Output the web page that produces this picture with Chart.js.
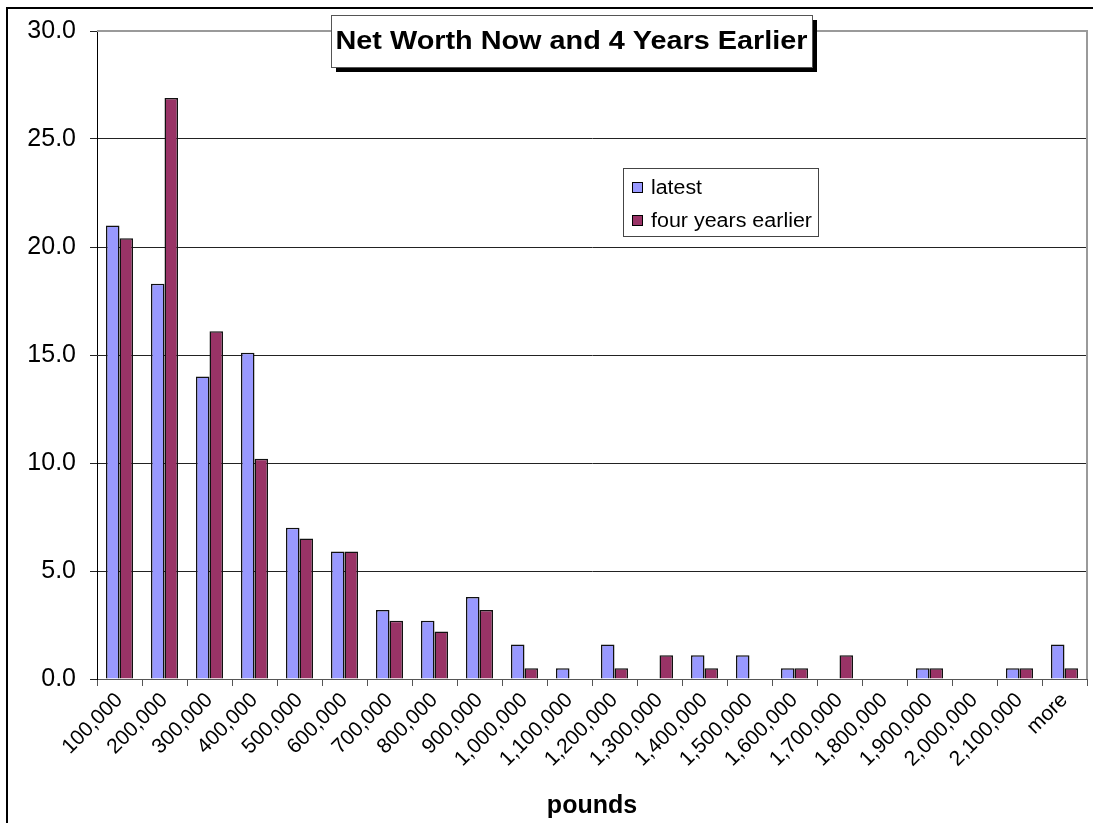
<!DOCTYPE html>
<html>
<head>
<meta charset="utf-8">
<script src="https://cdn.jsdelivr.net/npm/chart.js@4/dist/chart.umd.min.js"></script>
<style>
  html, body { margin: 0; padding: 0; background: #fff; }
  #wrap { width: 1093px; height: 823px; position: relative; }
</style>
</head>
<body>
<div id="wrap"><canvas id="c" width="1093" height="823"></canvas></div>
<script>
// Net worth bands (pounds), share of respondents in each band (%)
const categories = [
  "100,000", "200,000", "300,000", "400,000", "500,000", "600,000",
  "700,000", "800,000", "900,000", "1,000,000", "1,100,000", "1,200,000",
  "1,300,000", "1,400,000", "1,500,000", "1,600,000", "1,700,000",
  "1,800,000", "1,900,000", "2,000,000", "2,100,000", "more"
];
const latest = [
  21.0, 18.3, 14.0, 15.1, 7.0, 5.9, 3.2, 2.7, 3.8, 1.6, 0.5,
  1.6, 0.0, 1.1, 1.1, 0.5, 0.0, 0.0, 0.5, 0.0, 0.5, 1.6
];
const fourYearsEarlier = [
  20.4, 26.9, 16.1, 10.2, 6.5, 5.9, 2.7, 2.2, 3.2, 0.5, 0.0,
  0.5, 1.1, 0.5, 0.0, 0.5, 1.1, 0.0, 0.5, 0.0, 0.5, 0.5
];
const yTicks = [0, 5, 10, 15, 20, 25, 30];
const chartTitle = "Net Worth Now and 4 Years Earlier";
const xTitle = "pounds";

const FONT = "'Liberation Sans', Arial, sans-serif";

// Draws text stretched horizontally to fill a given width
function fillStretched(ctx, text, cx, cy, width) {
  const w = ctx.measureText(text).width;
  const sx = width / w;
  ctx.save();
  ctx.translate(cx, cy);
  ctx.scale(sx, 1);
  ctx.textAlign = 'center';
  ctx.fillText(text, 0, 0);
  ctx.restore();
}

// Outer frame, plot-area edges, boxed title and framed legend
const decorations = {
  id: 'decorations',
  beforeDraw(chart) {
    const ctx = chart.ctx;
    ctx.save();
    ctx.fillStyle = '#fff';
    ctx.fillRect(0, 0, chart.width, chart.height);
    ctx.strokeStyle = '#000';
    ctx.lineWidth = 2;
    ctx.beginPath();
    ctx.moveTo(7, chart.height);
    ctx.lineTo(7, 8);
    ctx.lineTo(chart.width, 8);
    ctx.stroke();
    ctx.restore();
  },
  afterDraw(chart) {
    const ctx = chart.ctx;
    const a = chart.chartArea;
    ctx.save();
    // plot area top and right edges
    ctx.strokeStyle = '#9a9a9a';
    ctx.lineWidth = 2;
    ctx.beginPath();
    ctx.moveTo(a.left, a.top);
    ctx.lineTo(a.right, a.top);
    ctx.lineTo(a.right, a.bottom);
    ctx.stroke();

    // title box with drop shadow
    const tx = 331, ty = 15, tw = 481, th = 52;
    ctx.fillStyle = '#000';
    ctx.fillRect(tx + 5, ty + 5, tw, th);
    ctx.fillStyle = '#fff';
    ctx.fillRect(tx, ty, tw, th);
    ctx.strokeStyle = '#555';
    ctx.lineWidth = 1;
    ctx.strokeRect(tx + 0.5, ty + 0.5, tw, th);
    ctx.fillStyle = '#000';
    ctx.font = "bold 25px " + FONT;
    ctx.textBaseline = 'middle';
    fillStretched(ctx, chartTitle, tx + tw / 2, ty + th / 2 + 1, 472);

    // legend box
    const lx = 623, ly = 168, lw = 195, lh = 68;
    ctx.fillStyle = '#fff';
    ctx.fillRect(lx, ly, lw, lh);
    ctx.strokeStyle = '#444';
    ctx.strokeRect(lx + 0.5, ly + 0.5, lw, lh);
    ctx.font = "20px " + FONT;
    ctx.textAlign = 'left';
    chart.data.datasets.forEach((ds, i) => {
      const cy = ly + 20 + i * 33;
      ctx.fillStyle = ds.backgroundColor;
      ctx.fillRect(lx + 9, cy - 6, 11, 11);
      ctx.strokeStyle = '#000';
      ctx.strokeRect(lx + 9.5, cy - 5.5, 10, 10);
      ctx.fillStyle = '#000';
      const w = ctx.measureText(ds.label).width;
      const target = i === 0 ? 51 : 161;
      fillStretched(ctx, ds.label, lx + 28 + target / 2, cy, target);
    });
    ctx.restore();
  }
};

new Chart(document.getElementById('c'), {
  type: 'bar',
  data: {
    labels: categories,
    datasets: [
      { label: 'latest', data: latest, backgroundColor: '#9999ff',
        borderColor: '#111', borderWidth: 1.5,
        categoryPercentage: 0.6, barPercentage: 1.0 },
      { label: 'four years earlier', data: fourYearsEarlier, backgroundColor: '#993366',
        borderColor: '#111', borderWidth: 1.5,
        categoryPercentage: 0.6, barPercentage: 1.0 }
    ]
  },
  options: {
    responsive: false,
    animation: false,
    layout: { padding: { left: 0, top: 31, right: 6, bottom: 0 } },
    plugins: {
      legend: { display: false },
      title: { display: false },
      tooltip: { enabled: false }
    },
    scales: {
      x: {
        offset: true,
        grid: { display: true, drawOnChartArea: false, drawTicks: true,
                tickLength: 7, offset: true, color: '#555' },
        border: { display: true, color: '#555', width: 1 },
        ticks: {
          color: '#000', font: { family: FONT, size: 21 },
          maxRotation: 45, minRotation: 45, autoSkip: false, padding: 2
        },
        title: {
          display: true, text: xTitle, color: '#000',
          font: { family: FONT, size: 25, weight: 'bold' },
          padding: { top: 0, bottom: 2 }
        },
        afterFit(s) { s.height = 823 - 679; }
      },
      y: {
        min: 0, max: 30,
        afterBuildTicks(s) { s.ticks = yTicks.map(v => ({ value: v })); },
        grid: { color: '#222', lineWidth: 1, tickLength: 7, drawTicks: true },
        border: { display: true, color: '#000', width: 1 },
        ticks: {
          color: '#000', font: { family: FONT, size: 25 }, padding: 14,
          callback: v => Number(v).toFixed(1)
        },
        afterFit(s) { s.width = 97; }
      }
    }
  },
  plugins: [decorations]
});
</script>
</body>
</html>
